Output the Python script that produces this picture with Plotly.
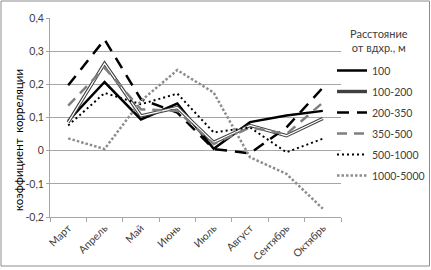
import plotly.graph_objects as go

months = ["Март", "Апрель", "Май", "Июнь", "Июль", "Август", "Сентябрь", "Октябрь"]
s_100 = [0.09, 0.207, 0.094, 0.142, 0.006, 0.086, 0.106, 0.12]
s_100_200 = [0.085, 0.263, 0.105, 0.13, 0.025, 0.076, 0.045, 0.097]
s_200_350 = [0.197, 0.335, 0.155, 0.115, 0.005, -0.008, 0.07, 0.19]
s_350_500 = [0.136, 0.25, 0.125, 0.12, 0.02, 0.07, 0.05, 0.145]
s_500_1000 = [0.076, 0.174, 0.14, 0.172, 0.055, 0.07, -0.005, 0.036]
s_1000_5000 = [0.037, 0.005, 0.15, 0.243, 0.175, -0.02, -0.07, -0.175]

y_tick_vals = [-0.2, -0.1, 0, 0.1, 0.2, 0.3, 0.4]
y_tick_text = ["-0,2", "-0,1", "0", "0,1", "0,2", "0,3", "0,4"]

FONT = "Lato, 'Open Sans', sans-serif"

fig = go.Figure()

fig.add_trace(go.Scatter(x=months, y=s_100, name="100", mode="lines", legendgroup="g1",
                         line=dict(color="black", width=2.5)))
fig.add_trace(go.Scatter(x=months, y=s_100_200, name="100-200", mode="lines",
                         legendgroup="g2",
                         line=dict(color="#404040", width=3.4)))
fig.add_trace(go.Scatter(x=months, y=s_100_200, name="100-200", mode="lines",
                         legendgroup="g2", showlegend=False,
                         line=dict(color="white", width=1.3)))
fig.add_trace(go.Scatter(x=months, y=s_200_350, name="200-350", mode="lines", legendgroup="g3",
                         line=dict(color="black", width=2.5, dash="12px,8px")))
fig.add_trace(go.Scatter(x=months, y=s_350_500, name="350-500", mode="lines", legendgroup="g4",
                         line=dict(color="#7f7f7f", width=2.5, dash="10px,7px")))
fig.add_trace(go.Scatter(x=months, y=s_500_1000, name="500-1000", mode="lines", legendgroup="g5",
                         line=dict(color="black", width=2, dash="2px,3px")))
fig.add_trace(go.Scatter(x=months, y=s_1000_5000, name="1000-5000", mode="lines", legendgroup="g6",
                         line=dict(color="#8c8c8c", width=2.5, dash="2.5px,2px")))

L, R, T, B = 50, 90, 18, 53
W, H = 431, 270
pw, ph = W - L - R, H - T - B
def px_x(p):
    return (p - L) / pw
def px_y(p):
    return (H - B - p) / ph

# outer chart border
fig.add_shape(type="rect", xref="paper", yref="paper",
              x0=px_x(1), x1=px_x(429.5), y0=px_y(266), y1=px_y(1),
              line=dict(color="#8c8c8c", width=1), fillcolor="rgba(0,0,0,0)")

# y axis title (placed like the original, off-centre)
fig.add_annotation(text="коэффициент  корреляции", xref="paper", yref="paper",
                   x=px_x(18), y=px_y(140), showarrow=False, textangle=-90,
                   font=dict(size=11.5, color="#000000"),
                   xanchor="center", yanchor="middle")

# legend title
fig.add_annotation(text="Расстояние<br>от вдхр., м", xref="paper", yref="paper",
                   x=px_x(379), y=px_y(41), showarrow=False, align="center",
                   font=dict(size=11, color="#404040"),
                   xanchor="center", yanchor="middle")

fig.update_layout(
    width=W, height=H,
    margin=dict(l=L, r=R, t=T, b=B, autoexpand=False),
    paper_bgcolor="white", plot_bgcolor="white",
    font=dict(family=FONT, size=10, color="#404040"),
    showlegend=True,
    legend=dict(
        x=px_x(332), xanchor="left", y=px_y(56), yanchor="top",
        font=dict(size=10.5, color="#404040"),
        bgcolor="rgba(0,0,0,0)",
        tracegroupgap=2,
        itemwidth=30,
    ),
    xaxis=dict(
        type="category",
        tickangle=-45,
        showgrid=False,
        showline=True, linecolor="#a6a6a6", linewidth=1,
        ticks="outside", ticklen=4, tickcolor="#a6a6a6",
        tickson="boundaries",
        tickfont=dict(size=10.5, color="#404040"),
        range=[-0.5, 7.5],
        automargin=False,
    ),
    yaxis=dict(
        range=[-0.2, 0.4],
        tickmode="array", tickvals=y_tick_vals, ticktext=y_tick_text,
        showgrid=True, gridcolor="#a6a6a6", gridwidth=1,
        zeroline=False,
        showline=True, linecolor="#a6a6a6", linewidth=1,
        ticks="outside", ticklen=3, tickcolor="#a6a6a6",
        tickfont=dict(size=10.5, color="#404040"),
        automargin=False,
    ),
)

fig.write_html("out.html",
               config={"displayModeBar": False},
               post_script="document.body.style.margin='0';document.body.style.overflow='hidden';")
